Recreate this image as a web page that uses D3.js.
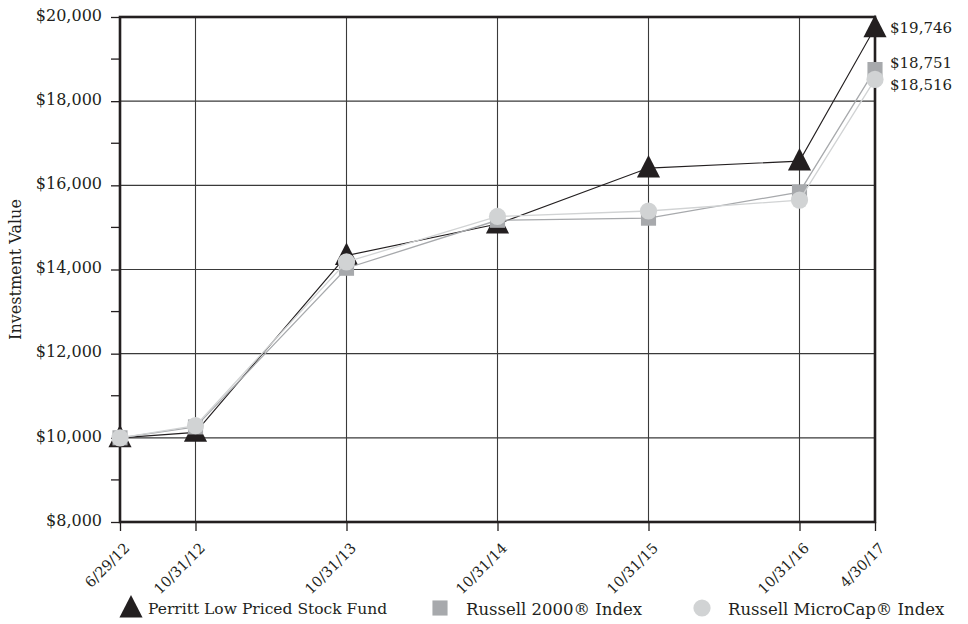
<!DOCTYPE html>
<html>
  <head>
    <meta charset="utf-8">
    <title>Investment value growth</title>
    <style type="text/css">
body { margin: 0; background: #fff; }
svg text { font-family: "DejaVu Serif", "Liberation Serif", serif; fill: #231f20; }
    </style>
  </head>
  <body>
    <div id="chart"></div>
    <script src="https://d3js.org/d3.v7.min.js"></script>
    <script>

    // dates on the x axis and elapsed years used to space them
    var dates = ["6/29/12", "10/31/12", "10/31/13", "10/31/14", "10/31/15", "10/31/16", "4/30/17"];
    var periodYears = [0, 0.5, 1.5, 2.5, 3.5, 4.5, 5];

    var fundValues = [10000, 10130, 14330, 15080, 16410, 16575, 19746];
    var r2000Values = [10000, 10260, 14030, 15170, 15220, 15840, 18751];
    var microValues = [10000, 10290, 14180, 15260, 15390, 15650, 18516];

    var yTicks = [8000, 10000, 12000, 14000, 16000, 18000, 20000];
    var yMinor = [9000, 11000, 13000, 15000, 17000, 19000];

    var series = [
      {name: "Perritt Low Priced Stock Fund", values: fundValues, color: "#231f20", marker: "triangle", lw: 1.1, labelDy: 0},
      {name: "Russell 2000\u00ae Index", values: r2000Values, color: "#a7a9ac", marker: "square", lw: 1.3, labelDy: -7},
      {name: "Russell MicroCap\u00ae Index", values: microValues, color: "#d1d3d4", marker: "circle", lw: 1.3, labelDy: 5}
    ];

    var width = 968, height = 624;
    var plotLeft = 120, plotRight = 875, plotTop = 17, plotBottom = 522;

    var x = d3.scaleLinear().domain([0, 5]).range([plotLeft, plotRight]);
    var y = d3.scaleLinear().domain([8000, 20000]).range([plotBottom, plotTop]);

    var svg = d3.select("#chart").append("svg")
      .attr("width", width)
      .attr("height", height);

    // grid
    svg.append("g").selectAll("line")
      .data(yTicks.slice(1, -1))
      .enter().append("line")
      .attr("x1", plotLeft).attr("x2", plotRight)
      .attr("y1", function(d) { return y(d); }).attr("y2", function(d) { return y(d); })
      .style("stroke", "#3a3a3a").style("stroke-width", 1.1);

    svg.append("g").selectAll("line")
      .data(periodYears.slice(1, -1))
      .enter().append("line")
      .attr("x1", function(d) { return x(d); }).attr("x2", function(d) { return x(d); })
      .attr("y1", plotTop).attr("y2", plotBottom)
      .style("stroke", "#3a3a3a").style("stroke-width", 1.1);

    // y axis with outward ticks
    var yAxis = svg.append("g")
      .attr("transform", "translate(" + plotLeft + ",0)")
      .call(d3.axisLeft(y).tickValues(yTicks).tickSize(9).tickPadding(9)
        .tickFormat(function(d) { return "$" + d3.format(",")(d); }));
    yAxis.select(".domain").remove();
    yAxis.selectAll("line").style("stroke", "#231f20").style("stroke-width", 1.3);
    yAxis.selectAll("text").attr("dy", "0.2em").style("font-size", "16px").style("fill", "#231f20");

    svg.append("g").selectAll("line")
      .data(yMinor)
      .enter().append("line")
      .attr("x1", plotLeft - 9).attr("x2", plotLeft)
      .attr("y1", function(d) { return y(d); }).attr("y2", function(d) { return y(d); })
      .style("stroke", "#231f20").style("stroke-width", 1.3);

    // x axis
    var xAxis = svg.append("g")
      .attr("transform", "translate(0," + plotBottom + ")")
      .call(d3.axisBottom(x).tickValues(periodYears).tickSize(9)
        .tickFormat(function(d, i) { return dates[i]; }));
    xAxis.select(".domain").remove();
    xAxis.selectAll("line").style("stroke", "#231f20").style("stroke-width", 1.3);
    xAxis.selectAll("text")
      .style("font-size", "14.5px")
      .style("text-anchor", "end")
      .attr("dy", null).attr("y", 0).attr("x", 0)
      .attr("transform", "translate(10,27) rotate(-45)");

    // frame
    svg.append("rect")
      .attr("x", plotLeft).attr("y", plotTop)
      .attr("width", plotRight - plotLeft).attr("height", plotBottom - plotTop)
      .style("fill", "none").style("stroke", "#231f20").style("stroke-width", 2.6);

    svg.append("text")
      .attr("transform", "translate(21," + ((plotTop + plotBottom) / 2) + ") rotate(-90)")
      .attr("text-anchor", "middle")
      .style("font-size", "16px")
      .text("Investment Value");

    function drawMarker(g, type, color, cx, cy, s) {
      if (type == "triangle") {
        g.append("path")
          .attr("d", "M" + cx + "," + (cy - s * 0.62) + "L" + (cx + s * 0.55) + "," + (cy + s * 0.45) + "L" + (cx - s * 0.55) + "," + (cy + s * 0.45) + "Z")
          .style("fill", color);
      } else if (type == "square") {
        g.append("rect")
          .attr("x", cx - s * 0.36).attr("y", cy - s * 0.36)
          .attr("width", s * 0.72).attr("height", s * 0.72)
          .style("fill", color);
      } else {
        g.append("circle")
          .attr("cx", cx).attr("cy", cy).attr("r", s * 0.41)
          .style("fill", color);
      }
    }

    var line = d3.line()
      .x(function(d, i) { return x(periodYears[i]); })
      .y(function(d) { return y(d); });

    series.forEach(function(s) {
      var g = svg.append("g");
      g.append("path")
        .attr("d", line(s.values))
        .style("fill", "none")
        .style("stroke", s.color)
        .style("stroke-width", s.lw);
      s.values.forEach(function(v, i) {
        drawMarker(g, s.marker, s.color, x(periodYears[i]), y(v), 21);
      });
      var last = s.values[s.values.length - 1];
      svg.append("text")
        .attr("x", plotRight + 15)
        .attr("y", y(last) + s.labelDy)
        .attr("dy", "0.35em")
        .style("font-size", "15px")
        .text("$" + d3.format(",")(last));
    });

    // legend
    var legendX = [131, 440, 702];
    var legendFont = ["15.5px", "16.5px", "16.5px"];
    var legend = svg.append("g");
    series.forEach(function(s, i) {
      var g = legend.append("g");
      drawMarker(g, s.marker, s.color, legendX[i], 608, 21);
      g.append("text")
        .attr("x", legendX[i] + (i == 0 ? 17 : 26))
        .attr("y", 609)
        .attr("dy", "0.35em")
        .style("font-size", legendFont[i])
        .text(s.name);
    });

    </script>
  </body>
</html>
